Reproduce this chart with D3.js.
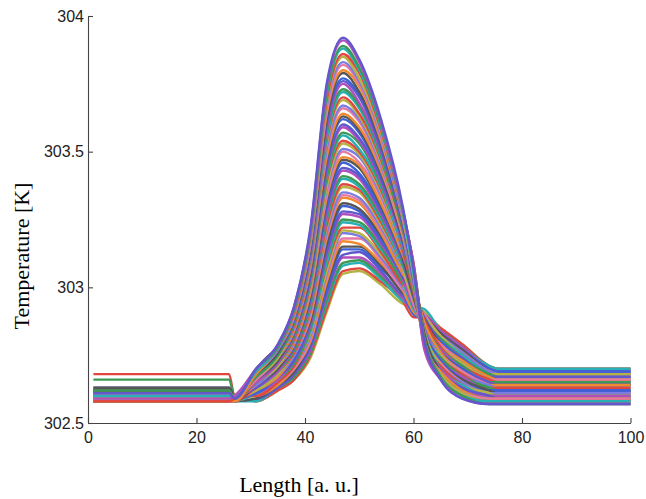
<!DOCTYPE html>
<html>
<head>
<meta charset="utf-8">
<script src="https://cdn.jsdelivr.net/npm/d3@7"></script>
<style>
body { margin: 0; background: #fff; }
</style>
</head>
<body>
<div id="chart"></div>
<script>
// axis ticks
var xTicks = [0, 20, 40, 60, 80, 100];
var yTicks = [302.5, 303, 303.5, 304];

// every run: flat start level, a profile through the hot zone, flat end level
var xStart = 1, xLeftEnd = 26, xRightStart = 75.5, xEnd = 100;
var profileX = [27, 31, 35, 38, 41, 44, 47, 50, 54, 58, 60, 62, 65, 69, 74];

var leftLevel = [
  302.59, 302.60, 302.58, 302.61, 302.59, 302.63, 302.60, 302.58, 302.62, 302.59,
  302.61, 302.60, 302.68, 302.58, 302.59, 302.61, 302.60, 302.62, 302.58, 302.59,
  302.60, 302.61, 302.59, 302.58, 302.62, 302.66, 302.60, 302.59, 302.61, 302.58,
  302.60, 302.62, 302.59, 302.61, 302.58, 302.60, 302.59, 302.61, 302.58, 302.60,
  302.63, 302.59, 302.61, 302.58, 302.60, 302.62, 302.59, 302.58, 302.61, 302.60,
  302.59, 302.62, 302.58, 302.60, 302.61, 302.59, 302.58, 302.60, 302.62, 302.59,
  302.61
];

var rightLevel = [
  302.70, 302.70, 302.70, 302.69, 302.69, 302.69, 302.69, 302.68, 302.68, 302.68,
  302.68, 302.68, 302.67, 302.67, 302.67, 302.67, 302.67, 302.66, 302.66, 302.66,
  302.66, 302.65, 302.65, 302.65, 302.65, 302.65, 302.64, 302.64, 302.64, 302.64,
  302.64, 302.63, 302.63, 302.63, 302.63, 302.62, 302.62, 302.62, 302.62, 302.62,
  302.61, 302.61, 302.61, 302.61, 302.60, 302.60, 302.60, 302.60, 302.60, 302.59,
  302.59, 302.59, 302.59, 302.59, 302.58, 302.58, 302.58, 302.58, 302.57, 302.57,
  302.57
];

var profiles = [
  [302.59, 302.58, 302.62, 302.66, 302.74, 302.91, 303.05, 303.06, 303.01, 302.94, 302.93, 302.91, 302.85, 302.79, 302.71],
  [302.60, 302.58, 302.62, 302.66, 302.75, 302.92, 303.06, 303.07, 303.02, 302.95, 302.89, 302.89, 302.85, 302.79, 302.71],
  [302.58, 302.58, 302.63, 302.67, 302.76, 302.94, 303.08, 303.09, 303.03, 302.95, 302.93, 302.92, 302.84, 302.78, 302.71],
  [302.60, 302.59, 302.63, 302.67, 302.76, 302.95, 303.09, 303.10, 303.04, 302.96, 302.92, 302.87, 302.84, 302.78, 302.70],
  [302.59, 302.59, 302.63, 302.68, 302.77, 302.97, 303.11, 303.11, 303.05, 302.96, 302.91, 302.90, 302.84, 302.78, 302.70],
  [302.60, 302.59, 302.63, 302.68, 302.78, 302.98, 303.12, 303.13, 303.06, 302.97, 302.95, 302.89, 302.83, 302.77, 302.70],
  [302.59, 302.59, 302.64, 302.69, 302.79, 302.99, 303.14, 303.14, 303.07, 302.98, 302.90, 302.88, 302.83, 302.77, 302.70],
  [302.58, 302.59, 302.64, 302.69, 302.80, 303.01, 303.15, 303.15, 303.08, 302.98, 302.95, 302.90, 302.83, 302.77, 302.69],
  [302.60, 302.60, 302.64, 302.70, 302.80, 303.02, 303.17, 303.16, 303.09, 302.99, 302.91, 302.88, 302.82, 302.76, 302.69],
  [302.59, 302.60, 302.65, 302.70, 302.81, 303.04, 303.18, 303.18, 303.10, 302.99, 302.95, 302.90, 302.82, 302.76, 302.69],
  [302.60, 302.60, 302.65, 302.71, 302.82, 303.05, 303.20, 303.19, 303.11, 303.00, 302.94, 302.86, 302.82, 302.76, 302.69],
  [302.59, 302.60, 302.65, 302.71, 302.83, 303.06, 303.21, 303.20, 303.12, 303.01, 302.93, 302.89, 302.82, 302.75, 302.68],
  [302.60, 302.60, 302.65, 302.71, 302.84, 303.08, 303.22, 303.22, 303.13, 303.01, 302.97, 302.88, 302.81, 302.75, 302.68],
  [302.58, 302.61, 302.66, 302.72, 302.84, 303.09, 303.24, 303.23, 303.14, 303.02, 302.92, 302.87, 302.81, 302.75, 302.68],
  [302.59, 302.61, 302.66, 302.72, 302.85, 303.11, 303.25, 303.24, 303.15, 303.02, 302.97, 302.88, 302.81, 302.74, 302.68],
  [302.60, 302.61, 302.66, 302.73, 302.86, 303.12, 303.27, 303.26, 303.16, 303.03, 302.93, 302.86, 302.80, 302.74, 302.67],
  [302.59, 302.61, 302.67, 302.73, 302.87, 303.13, 303.28, 303.27, 303.17, 303.04, 302.97, 302.89, 302.80, 302.74, 302.67],
  [302.60, 302.61, 302.67, 302.74, 302.88, 303.15, 303.30, 303.28, 303.18, 303.04, 302.96, 302.85, 302.80, 302.73, 302.67],
  [302.59, 302.70, 302.77, 302.78, 302.88, 303.16, 303.31, 303.29, 303.19, 303.05, 302.95, 302.88, 302.79, 302.73, 302.67],
  [302.60, 302.62, 302.67, 302.75, 302.89, 303.18, 303.33, 303.31, 303.20, 303.05, 302.99, 302.87, 302.79, 302.73, 302.67],
  [302.59, 302.62, 302.68, 302.75, 302.90, 303.19, 303.34, 303.32, 303.21, 303.06, 302.94, 302.85, 302.79, 302.72, 302.66],
  [302.60, 302.62, 302.68, 302.75, 302.91, 303.20, 303.35, 303.33, 303.22, 303.07, 302.99, 302.87, 302.78, 302.72, 302.66],
  [302.59, 302.62, 302.68, 302.76, 302.92, 303.22, 303.37, 303.35, 303.23, 303.07, 302.95, 302.85, 302.78, 302.72, 302.66],
  [302.58, 302.63, 302.69, 302.76, 302.92, 303.23, 303.38, 303.36, 303.24, 303.08, 302.99, 302.88, 302.78, 302.71, 302.66],
  [302.60, 302.63, 302.69, 302.77, 302.93, 303.25, 303.40, 303.37, 303.25, 303.08, 302.98, 302.84, 302.77, 302.71, 302.65],
  [302.60, 302.63, 302.69, 302.77, 302.94, 303.26, 303.41, 303.38, 303.26, 303.09, 302.97, 302.86, 302.77, 302.71, 302.65],
  [302.59, 302.63, 302.69, 302.78, 302.95, 303.27, 303.43, 303.40, 303.27, 303.10, 303.01, 302.85, 302.77, 302.70, 302.65],
  [302.60, 302.63, 302.70, 302.78, 302.96, 303.29, 303.44, 303.41, 303.28, 303.10, 302.96, 302.84, 302.76, 302.70, 302.65],
  [302.59, 302.64, 302.70, 302.79, 302.96, 303.30, 303.46, 303.42, 303.29, 303.11, 303.01, 302.86, 302.76, 302.70, 302.64],
  [302.58, 302.64, 302.70, 302.79, 302.97, 303.32, 303.47, 303.44, 303.30, 303.11, 302.97, 302.84, 302.76, 302.69, 302.64],
  [302.60, 302.64, 302.71, 302.79, 302.98, 303.33, 303.48, 303.45, 303.31, 303.12, 303.01, 302.87, 302.76, 302.69, 302.64],
  [302.59, 302.64, 302.71, 302.80, 302.99, 303.34, 303.50, 303.46, 303.33, 303.13, 303.00, 302.82, 302.75, 302.69, 302.64],
  [302.60, 302.64, 302.71, 302.80, 303.00, 303.36, 303.51, 303.48, 303.34, 303.13, 302.99, 302.85, 302.75, 302.68, 302.64],
  [302.59, 302.65, 302.71, 302.81, 303.00, 303.37, 303.53, 303.49, 303.35, 303.14, 303.03, 302.84, 302.75, 302.68, 302.63],
  [302.58, 302.65, 302.72, 302.81, 303.01, 303.39, 303.54, 303.50, 303.36, 303.14, 302.98, 302.83, 302.74, 302.68, 302.63],
  [302.60, 302.65, 302.72, 302.82, 303.02, 303.40, 303.56, 303.51, 303.37, 303.15, 303.03, 302.85, 302.74, 302.67, 302.63],
  [302.59, 302.65, 302.72, 302.82, 303.03, 303.41, 303.57, 303.53, 303.38, 303.16, 302.99, 302.82, 302.74, 302.67, 302.63],
  [302.60, 302.65, 302.72, 302.83, 303.04, 303.43, 303.59, 303.54, 303.39, 303.16, 303.02, 302.85, 302.73, 302.67, 302.62],
  [302.59, 302.66, 302.73, 302.83, 303.04, 303.44, 303.60, 303.55, 303.40, 303.17, 303.02, 302.81, 302.73, 302.66, 302.62],
  [302.60, 302.66, 302.73, 302.84, 303.05, 303.46, 303.62, 303.57, 303.41, 303.17, 303.01, 302.84, 302.73, 302.66, 302.62],
  [302.60, 302.66, 302.73, 302.84, 303.06, 303.47, 303.63, 303.58, 303.42, 303.18, 303.05, 302.83, 302.72, 302.66, 302.62],
  [302.59, 302.66, 302.74, 302.84, 303.07, 303.48, 303.64, 303.59, 303.43, 303.19, 303.00, 302.81, 302.72, 302.65, 302.61],
  [302.60, 302.66, 302.74, 302.85, 303.08, 303.50, 303.66, 303.61, 303.44, 303.19, 303.05, 302.83, 302.72, 302.65, 302.61],
  [302.58, 302.67, 302.74, 302.85, 303.08, 303.51, 303.67, 303.62, 303.45, 303.20, 303.01, 302.81, 302.71, 302.65, 302.61],
  [302.60, 302.67, 302.74, 302.86, 303.09, 303.53, 303.69, 303.63, 303.46, 303.20, 303.04, 302.84, 302.71, 302.64, 302.61],
  [302.59, 302.67, 302.75, 302.86, 303.10, 303.54, 303.70, 303.64, 303.47, 303.21, 303.04, 302.80, 302.71, 302.64, 302.60],
  [302.60, 302.67, 302.75, 302.87, 303.11, 303.55, 303.72, 303.66, 303.48, 303.22, 303.03, 302.83, 302.70, 302.64, 302.60],
  [302.59, 302.67, 302.75, 302.87, 303.12, 303.57, 303.73, 303.67, 303.49, 303.22, 303.07, 302.81, 302.70, 302.63, 302.60],
  [302.60, 302.68, 302.76, 302.88, 303.12, 303.58, 303.75, 303.68, 303.50, 303.23, 303.02, 302.80, 302.70, 302.63, 302.60],
  [302.59, 302.68, 302.76, 302.88, 303.13, 303.60, 303.76, 303.70, 303.51, 303.23, 303.07, 302.82, 302.69, 302.63, 302.60],
  [302.60, 302.68, 302.76, 302.88, 303.14, 303.61, 303.77, 303.71, 303.52, 303.24, 303.03, 302.80, 302.69, 302.62, 302.59],
  [302.59, 302.68, 302.76, 302.89, 303.15, 303.62, 303.79, 303.72, 303.53, 303.25, 303.06, 302.83, 302.69, 302.62, 302.59],
  [302.58, 302.68, 302.77, 302.89, 303.16, 303.64, 303.80, 303.74, 303.54, 303.25, 303.06, 302.78, 302.69, 302.62, 302.59],
  [302.60, 302.69, 302.77, 302.90, 303.16, 303.65, 303.82, 303.75, 303.55, 303.26, 303.05, 302.81, 302.68, 302.61, 302.59],
  [302.59, 302.69, 302.77, 302.90, 303.17, 303.67, 303.83, 303.76, 303.56, 303.26, 303.09, 302.80, 302.68, 302.61, 302.58],
  [302.60, 302.69, 302.78, 302.91, 303.18, 303.68, 303.85, 303.77, 303.57, 303.27, 303.04, 302.79, 302.68, 302.61, 302.58],
  [302.59, 302.69, 302.78, 302.91, 303.19, 303.69, 303.86, 303.79, 303.58, 303.28, 303.09, 302.81, 302.67, 302.60, 302.58],
  [302.60, 302.69, 302.78, 302.92, 303.20, 303.71, 303.88, 303.80, 303.59, 303.28, 303.05, 302.79, 302.67, 302.60, 302.58],
  [302.59, 302.70, 302.78, 302.92, 303.20, 303.72, 303.89, 303.81, 303.60, 303.29, 303.08, 302.81, 302.67, 302.60, 302.57],
  [302.60, 302.70, 302.79, 302.93, 303.21, 303.74, 303.91, 303.83, 303.61, 303.29, 303.08, 302.77, 302.66, 302.59, 302.57],
  [302.59, 302.70, 302.79, 302.93, 303.22, 303.75, 303.92, 303.84, 303.62, 303.30, 303.07, 302.80, 302.66, 302.59, 302.57]
];

var palette = ["#b5b344", "#e2473f", "#27b0b6", "#3a9a56", "#b34fbd", "#6257cc",
               "#3d62d8", "#565656", "#ef8a2e", "#e67aa4", "#7c7ce0"];

var width = 646, height = 499;

var x = d3.scaleLinear().domain([0, 100]).range([88, 630.5]);
var y = d3.scaleLinear().domain([302.5, 304]).range([423, 16]);

var svg = d3.select("#chart").append("svg")
            .attr("width", width)
            .attr("height", height);

var line = d3.line()
            .x(function(d) { return x(d[0]); })
            .y(function(d) { return y(d[1]); })
            .curve(d3.curveMonotoneX);

var runs = profiles.map(function(p, i) {
    var pts = [[xStart, leftLevel[i]], [xLeftEnd, leftLevel[i]]];
    p.forEach(function(v, j) { pts.push([profileX[j], v]); });
    pts.push([xRightStart, rightLevel[i]], [xEnd, rightLevel[i]]);
    return pts;
});

svg.append("g").selectAll("path")
    .data(runs)
    .enter().append("path")
    .attr("d", line)
    .attr("fill", "none")
    .attr("stroke", function(d, i) { return palette[i % palette.length]; })
    .attr("stroke-width", 2.4)
    .attr("stroke-linejoin", "round");

// MATLAB style axes, ticks pointing inward
var xAxis = svg.append("g")
    .attr("transform", "translate(0," + y(302.5) + ")")
    .call(d3.axisBottom(x).tickValues(xTicks).tickSizeInner(-5).tickSizeOuter(0).tickPadding(9));

var yAxis = svg.append("g")
    .attr("transform", "translate(" + x(0) + ",0)")
    .call(d3.axisLeft(y).tickValues(yTicks).tickFormat(function(d) { return String(d); })
            .tickSizeInner(-5).tickSizeOuter(0).tickPadding(4));

[xAxis, yAxis].forEach(function(g) {
    g.selectAll("path, line").attr("stroke", "#444").attr("stroke-width", 1.1);
    g.selectAll("text")
        .attr("fill", "#222")
        .style("font-family", "'Liberation Sans', Arial, sans-serif")
        .style("font-size", "16px");
});

svg.append("text")
    .attr("x", 299)
    .attr("y", 492)
    .attr("text-anchor", "middle")
    .style("font-family", "'Liberation Serif', 'Times New Roman', serif")
    .style("font-size", "22px")
    .text("Length [a. u.]");

svg.append("text")
    .attr("transform", "translate(29,256) rotate(-90)")
    .attr("text-anchor", "middle")
    .style("font-family", "'Liberation Serif', 'Times New Roman', serif")
    .style("font-size", "22px")
    .text("Temperature [K]");
</script>
</body>
</html>
